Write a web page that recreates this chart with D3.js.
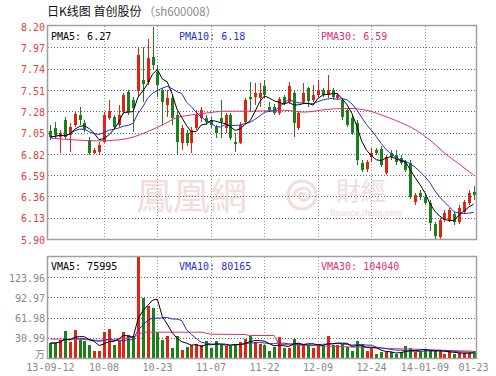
<!DOCTYPE html>
<html>
<head>
<meta charset="utf-8">
<script src="https://cdn.jsdelivr.net/npm/d3@7"></script>
<style>
  html, body { margin:0; padding:0; background:#fff; }
  svg { display:block; }
</style>
</head>
<body>
<div id="chart"></div>
<script>
// 日K线图 首创股份 (sh600008) — daily candles + volume, drawn with d3 v7

// 88 trading sessions, 2013-09-12 .. 2014-01-23 (only the labelled ones listed)
const dayCount = 88;
const dateTickDays = [0, 11, 22, 33, 44, 55, 66, 77, 87];
const dateTickLabels = ['13-09-12','10-08','10-23','11-07','11-22','12-09','12-24','14-01-09','01-23'];

// price (yuan)
const opens = [7.07,7.10,7.00,7.18,7.02,7.13,7.24,7.15,6.97,6.83,
  6.84,6.95,7.21,7.22,7.13,7.27,7.49,7.40,7.50,7.62,
  7.60,7.87,7.70,7.51,7.35,7.42,7.24,6.94,7.04,6.94,
  7.10,7.21,7.21,7.18,7.11,7.21,7.10,7.24,6.95,6.94,
  7.16,7.43,7.43,7.42,7.55,7.33,7.33,7.26,7.43,7.38,
  7.48,7.10,7.38,7.53,7.40,7.45,7.51,7.45,7.51,7.42,
  7.40,7.29,7.21,7.15,6.72,6.66,6.79,6.86,6.87,6.61,
  6.83,6.81,6.77,6.73,6.72,6.30,6.40,6.35,6.29,6.06,
  5.92,6.10,6.10,6.17,6.08,6.19,6.29,6.41];
const highs = [7.13,7.16,7.08,7.22,7.15,7.27,7.33,7.18,7.00,6.88,
  6.95,7.27,7.40,7.24,7.35,7.48,7.51,7.43,7.96,7.97,
  8.06,8.19,7.78,7.53,7.51,7.45,7.27,7.13,7.08,7.11,
  7.29,7.33,7.24,7.22,7.13,7.40,7.26,7.26,7.04,7.16,
  7.42,7.60,7.58,7.58,7.62,7.38,7.36,7.43,7.45,7.60,
  7.50,7.28,7.58,7.54,7.56,7.62,7.53,7.67,7.53,7.48,
  7.42,7.31,7.24,7.18,6.75,6.75,6.88,6.88,6.90,6.81,
  6.86,6.86,6.81,6.75,6.75,6.40,6.43,6.37,6.32,6.08,
  6.13,6.21,6.23,6.19,6.27,6.32,6.43,6.47];
const lows = [6.97,6.99,6.83,6.98,6.84,7.11,7.13,7.06,6.81,6.82,
  6.82,6.94,7.18,7.09,7.11,7.25,7.24,7.06,7.44,7.38,
  7.56,7.72,7.43,7.13,7.22,7.13,6.81,6.86,6.90,6.83,
  7.08,7.16,7.13,7.10,6.99,6.99,7.04,6.97,6.84,6.93,
  7.14,7.27,7.35,7.33,7.42,7.27,7.24,7.24,7.35,7.36,
  7.00,7.08,7.36,7.33,7.38,7.43,7.43,7.42,7.40,7.40,
  7.18,7.11,7.02,6.70,6.62,6.62,6.73,6.81,6.68,6.59,
  6.75,6.70,6.70,6.62,6.33,6.27,6.32,6.27,5.99,5.90,
  5.90,6.08,6.08,6.05,6.06,6.17,6.27,6.32];
const closes = [7.00,7.02,7.04,7.00,7.11,7.25,7.18,7.08,6.83,6.86,
  6.91,7.24,7.28,7.11,7.24,7.45,7.27,7.31,7.89,7.57,
  7.85,7.78,7.56,7.38,7.42,7.21,6.95,7.10,6.94,7.08,
  7.24,7.29,7.16,7.13,7.04,7.16,7.24,6.99,6.93,7.13,
  7.40,7.41,7.48,7.48,7.45,7.29,7.26,7.41,7.37,7.55,
  7.15,7.26,7.48,7.39,7.45,7.51,7.45,7.51,7.43,7.45,
  7.22,7.13,7.04,6.75,6.64,6.73,6.83,6.83,6.70,6.79,
  6.79,6.73,6.72,6.64,6.35,6.37,6.35,6.29,6.07,5.93,
  6.10,6.18,6.21,6.08,6.23,6.30,6.40,6.38];

// volume (万)
const volumes = [22.9,22.9,27.9,41.6,24.4,42.7,27.9,26.4,19.2,11.1,
  11.1,39.6,44.7,20.3,27.9,40.6,35.5,34.0,160,92.4,
  80.5,77.0,40.5,27.9,34.5,16.0,34.0,12.7,16.2,19.2,
  21.3,19.2,26.4,15.2,26.4,20.3,17.7,17.7,21.3,24.4,
  29.4,33.0,25.3,21.3,20.3,10.1,16.2,31.5,15.2,15.2,
  29.4,22.9,21.3,20.3,15.2,21.3,17.7,34.5,20.3,20.3,
  21.3,16.2,11.1,26.4,19.2,11.1,15.2,6.1,9.1,8.6,
  8.6,6.1,8.6,17.7,15.2,9.1,10.1,14.2,10.1,11.1,
  10.1,6.1,10.1,6.1,7.1,7.1,7.1,11.1];

const ma30Days = [0,5,10,14,17,20,23,26,29,32,36,42,48,52,57,61,65,68,71,75,78,81,84,87];
const ma30Values = [6.99,6.97,6.96,6.97,7.00,7.06,7.13,7.21,7.24,7.26,7.28,7.28,7.29,7.27,7.30,7.31,7.29,7.24,7.18,7.08,6.97,6.83,6.71,6.59];
const vma30Days = [0,5,10,15,17,18,19,31,33,40,41,46,47,50,58,65,70,77,82,87];
const vma30Values = [29,29,27,30,32,35,39.6,39.6,36.6,36,34.5,34.5,21,20,18,16,14.5,13,11.5,10.4];

// axis ticks
const priceTicks = [8.20,7.97,7.74,7.51,7.28,7.05,6.82,6.59,6.36,6.13,5.90];
const volumeTicks = [30.99,61.98,92.97,123.96];
const volumeMax = 154.95;

// header / legend text
const titleMain = '日K线图 首创股份';
const titleCode = '（sh600008）';
const priceLegend = ['PMA5: 6.27', 'PMA10: 6.18', 'PMA30: 6.59'];
const volumeLegend = ['VMA5: 75995', 'VMA10: 80165', 'VMA30: 104040'];

// colours
const RED = '#e2230f', GREEN = '#19801a';
const C_MA5 = '#000000', C_MA10 = '#1f35cc', C_MA30 = '#e0307a';
const WM = '#f3dcdc';
const MONO = '"DejaVu Sans Mono", monospace';

// ---- layout
const W = 496, H = 376;
const L = 48, R = 476;
const pTop = 26, pBot = 239;   // price panel
const vTop = 257, vBot = 358;  // volume panel

const svg = d3.select('#chart').append('svg').attr('width', W).attr('height', H);

const x = d3.scaleBand().domain(d3.range(dayCount)).range([L, R]).paddingInner(0.3).paddingOuter(0.15);
const cx = i => x(i) + x.bandwidth() / 2;
const y = d3.scaleLinear().domain([5.90, 8.20]).range([pBot, pTop]);
const yv = d3.scaleLinear().domain([0, volumeMax]).range([vBot, vTop]);

// simple moving average (partial window at the start)
function sma(arr, n){
  return arr.map((d, i) => d3.mean(arr.slice(Math.max(0, i - n + 1), i + 1)));
}
const ma5 = sma(closes, 5), ma10 = sma(closes, 10);
const vma5 = sma(volumes, 5), vma10 = sma(volumes, 10);

// clip paths
const defs = svg.append('defs');
defs.append('clipPath').attr('id', 'clipP').append('rect').attr('x', L).attr('y', pTop).attr('width', R - L).attr('height', pBot - pTop);
defs.append('clipPath').attr('id', 'clipV').append('rect').attr('x', L).attr('y', vTop).attr('width', R - L).attr('height', vBot - vTop);

// ---- title
const title = svg.append('text').attr('x', 47).attr('y', 16)
  .style('font-family', '"Noto Sans CJK SC", sans-serif').style('font-size', '12px').attr('fill', '#111');
title.append('tspan').text(titleMain);
title.append('tspan').attr('fill', '#8a8a8a').attr('dx', 2).style('font-size', '11.5px').text(titleCode);

// ---- watermark (ifeng finance)
const wm = svg.append('g').attr('fill', WM);
wm.append('text').attr('x', 136).attr('y', 210).style('font-family', '"Noto Sans CJK TC", serif')
  .style('font-size', '37px').text('鳳凰網');
const logo = wm.append('g').attr('transform', 'translate(302,195)');
logo.append('circle').attr('r', 14).attr('fill', 'none').attr('stroke', WM).attr('stroke-width', 3);
logo.append('path').attr('d', 'M-8,2 C-8,-8 6,-10 8,-2 C9,4 2,7 -2,4 C-5,1 -1,-3 3,-1')
  .attr('fill', 'none').attr('stroke', WM).attr('stroke-width', 3);
wm.append('text').attr('x', 336).attr('y', 200).style('font-family', '"Noto Sans CJK TC", serif')
  .style('font-size', '25px').text('財經');
wm.append('text').attr('x', 330).attr('y', 216).style('font-family', 'Arial, "Liberation Sans", sans-serif')
  .style('font-size', '8.5px').style('font-weight', 'bold').text('finance.ifeng.com');

// ---- grids
const grid = svg.append('g').attr('fill', 'none');
const gridDays = dateTickDays.slice(1, -1);
function vGrid(top, bot){
  grid.selectAll(null).data(gridDays).enter().append('line')
    .attr('x1', d => Math.round(cx(d)) + 0.5).attr('x2', d => Math.round(cx(d)) + 0.5)
    .attr('y1', top).attr('y2', bot)
    .attr('stroke', '#9a9a9a').attr('stroke-width', 1).attr('stroke-dasharray', '1,2');
}
vGrid(pTop, pBot); vGrid(vTop, vBot);
grid.selectAll(null).data(priceTicks.slice(1, -1)).enter().append('line')
  .attr('x1', L).attr('x2', R).attr('y1', d => Math.round(y(d)) + 0.5).attr('y2', d => Math.round(y(d)) + 0.5)
  .attr('stroke', '#666').attr('stroke-dasharray', '1,2');
grid.selectAll(null).data(volumeTicks).enter().append('line')
  .attr('x1', L).attr('x2', R).attr('y1', d => Math.round(yv(d)) + 0.5).attr('y2', d => Math.round(yv(d)) + 0.5)
  .attr('stroke', '#666').attr('stroke-dasharray', '1,2');

// ---- candles
const days = d3.range(dayCount);
const up = i => closes[i] >= opens[i];
const candles = svg.append('g').attr('clip-path', 'url(#clipP)').attr('shape-rendering', 'crispEdges');
const cg = candles.selectAll('g').data(days).enter().append('g')
  .attr('fill', i => up(i) ? RED : GREEN).attr('stroke', i => up(i) ? RED : GREEN);
cg.append('line')
  .attr('x1', i => Math.round(cx(i)) + 0.5).attr('x2', i => Math.round(cx(i)) + 0.5)
  .attr('y1', i => y(highs[i])).attr('y2', i => y(lows[i]));
cg.append('rect')
  .attr('x', i => Math.round(cx(i)) - 1).attr('width', 3)
  .attr('y', i => y(Math.max(opens[i], closes[i])))
  .attr('height', i => Math.max(1, Math.abs(y(opens[i]) - y(closes[i]))))
  .attr('stroke', 'none');

// ---- price moving averages
const lineP = d3.line().x((d, i) => cx(i)).y(d => y(d));
const priceLines = svg.append('g').attr('clip-path', 'url(#clipP)').attr('fill', 'none').attr('stroke-width', 1);
priceLines.append('path').attr('d', d3.line().x((d, k) => cx(ma30Days[k])).y(d => y(d)).curve(d3.curveMonotoneX)(ma30Values)).attr('stroke', C_MA30);
priceLines.append('path').attr('d', lineP(ma10)).attr('stroke', C_MA10);
priceLines.append('path').attr('d', lineP(ma5)).attr('stroke', C_MA5);

// ---- volume bars
const vol = svg.append('g').attr('clip-path', 'url(#clipV)').attr('shape-rendering', 'crispEdges');
vol.selectAll('rect').data(days).enter().append('rect')
  .attr('x', i => Math.round(cx(i)) - 1).attr('width', 3)
  .attr('y', i => yv(volumes[i])).attr('height', i => vBot - yv(volumes[i]))
  .attr('fill', i => up(i) ? RED : GREEN);

const lineV = d3.line().x((d, i) => cx(i)).y(d => yv(d));
const volLines = svg.append('g').attr('clip-path', 'url(#clipV)').attr('fill', 'none').attr('stroke-width', 1);
volLines.append('path').attr('d', d3.line().x((d, k) => cx(vma30Days[k])).y(d => yv(d))(vma30Values)).attr('stroke', C_MA30);
volLines.append('path').attr('d', lineV(vma10)).attr('stroke', C_MA10);
volLines.append('path').attr('d', lineV(vma5)).attr('stroke', C_MA5);

// ---- frames
[[pTop, pBot], [vTop, vBot]].forEach(([t, b]) => {
  svg.append('rect').attr('x', L - 0.5).attr('y', t - 0.5).attr('width', R - L + 1).attr('height', b - t + 1)
    .attr('fill', 'none').attr('stroke', '#a0a0a0').attr('stroke-width', 1.5);
});

// ---- axes
const axP = svg.append('g').attr('transform', `translate(${L},0)`)
  .call(d3.axisLeft(y).tickValues(priceTicks).tickSize(0).tickPadding(3).tickFormat(d3.format('.2f')));
axP.select('.domain').remove();
axP.selectAll('text').attr('fill', '#e8403c').style('font-family', MONO).style('font-size', '10px').attr('dy', '0.42em');

const axV = svg.append('g').attr('transform', `translate(${L},0)`)
  .call(d3.axisLeft(yv).tickValues([0].concat(volumeTicks)).tickSize(0).tickPadding(3)
    .tickFormat(d => d === 0 ? '万' : d3.format('.2f')(d)));
axV.select('.domain').remove();
axV.selectAll('text').attr('fill', '#888').style('font-family', MONO).style('font-size', '10px').attr('dy', '0.4em');
axV.selectAll('.tick').filter(d => d === 0).select('text')
  .style('font-family', '"Noto Sans CJK SC", sans-serif').style('font-size', '10px').attr('dy', '-0.1em');

const axX = svg.append('g').attr('transform', `translate(0,${vBot})`)
  .call(d3.axisBottom(x).tickValues(dateTickDays).tickSize(0).tickPadding(6)
    .tickFormat(d => dateTickLabels[dateTickDays.indexOf(d)]));
axX.select('.domain').remove();
axX.selectAll('text').attr('fill', '#888').style('font-family', MONO).style('font-size', '10px');

// ---- legends
const legendX = [51, 179, 321];
const legendC = [C_MA5, C_MA10, C_MA30];
svg.append('g').selectAll('text').data(priceLegend).enter().append('text')
  .attr('x', (d, i) => legendX[i]).attr('y', 40).attr('fill', (d, i) => legendC[i])
  .style('font-family', MONO).style('font-size', '10px').text(d => d);
svg.append('g').selectAll('text').data(volumeLegend).enter().append('text')
  .attr('x', (d, i) => legendX[i]).attr('y', 270).attr('fill', (d, i) => legendC[i])
  .style('font-family', MONO).style('font-size', '10px').text(d => d);
</script>
</body>
</html>
